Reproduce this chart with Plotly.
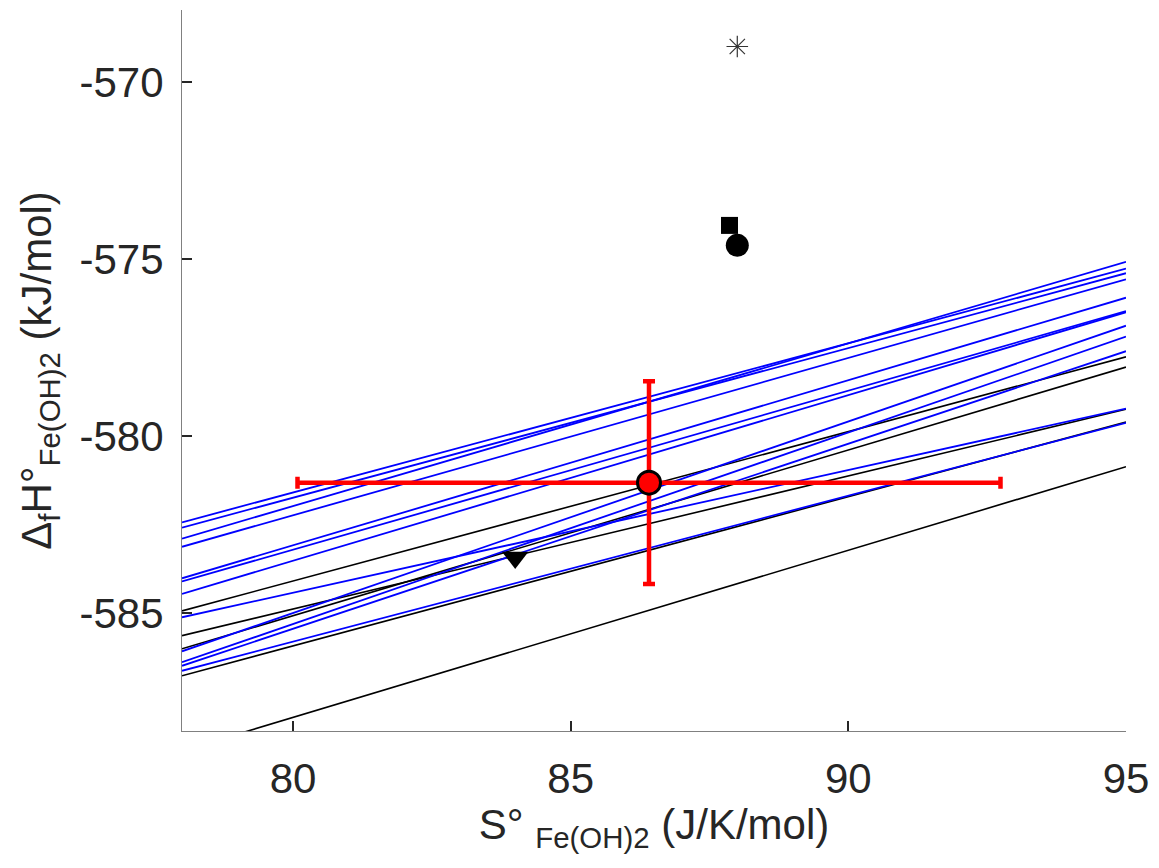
import plotly.graph_objects as go

# S° range where constraint lines are drawn (J/K/mol)
s_ends = [78, 95]

# Blue constraint lines: ΔfH at S=78 and at S=95 (kJ/mol)
blue_h_start = [-582.43, -582.58, -582.89, -583.12, -584.01, -584.10,
                -584.45, -585.11, -586.07, -586.38, -586.48, -586.62]
blue_h_end = [-575.27, -575.40, -575.08, -575.57, -576.09, -576.47,
              -576.50, -579.22, -576.88, -577.19, -577.60, -579.62]

# Black constraint lines
black_h_start = [-584.93, -585.63, -586.00, -586.76, -588.88]
black_h_end = [-577.76, -579.24, -578.05, -579.60, -580.86]

# Literature points
star_s, star_h = [88.0], [-569.0]
square_s, square_h = [87.86], [-574.05]
circle_s, circle_h = [88.0], [-574.61]
tri_s, tri_h = [84.0], [-583.42]

# Best estimate with uncertainties
best_s, best_h = [86.41], [-581.31]
best_s_err, best_h_err = [6.33], [2.86]

x_ticks = [80, 85, 90, 95]
y_ticks = [-585, -580, -575, -570]

fig = go.Figure()

for h0, h1 in zip(black_h_start, black_h_end):
    fig.add_trace(go.Scatter(x=s_ends, y=[h0, h1], mode="lines",
                             line=dict(color="black", width=1.6),
                             hoverinfo="skip", showlegend=False))
for h0, h1 in zip(blue_h_start, blue_h_end):
    fig.add_trace(go.Scatter(x=s_ends, y=[h0, h1], mode="lines",
                             line=dict(color="#0000ff", width=1.8),
                             hoverinfo="skip", showlegend=False))

fig.add_trace(go.Scatter(x=star_s, y=star_h, mode="markers",
                         marker=dict(symbol="asterisk-open", size=18, color="#333333",
                                     line=dict(color="#333333", width=1.2)),
                         showlegend=False))
fig.add_trace(go.Scatter(x=square_s, y=square_h, mode="markers",
                         marker=dict(symbol="square", size=17, color="black"),
                         showlegend=False))
fig.add_trace(go.Scatter(x=circle_s, y=circle_h, mode="markers",
                         marker=dict(symbol="circle", size=23, color="black"),
                         showlegend=False))
fig.add_trace(go.Scatter(x=tri_s, y=tri_h, mode="markers",
                         marker=dict(symbol="triangle-down", size=23, color="black"),
                         showlegend=False))
fig.add_trace(go.Scatter(x=best_s, y=best_h, mode="markers",
                         marker=dict(symbol="circle", size=23, color="#ff0000",
                                     line=dict(color="black", width=3)),
                         error_x=dict(type="data", array=best_s_err, color="#ff0000",
                                      thickness=4.5, width=6),
                         error_y=dict(type="data", array=best_h_err, color="#ff0000",
                                      thickness=4.5, width=6),
                         showlegend=False))

font = dict(family="Liberation Sans, Arial, sans-serif", size=42, color="#262626")

fig.update_layout(
    width=1159, height=868,
    margin=dict(l=182, r=31, t=10, b=137),
    paper_bgcolor="white", plot_bgcolor="white",
    font=font,
    xaxis=dict(range=[78, 95], tickvals=x_ticks, ticktext=[str(v) for v in x_ticks],
               showgrid=False, zeroline=False, showline=True,
               linecolor="#808080", linewidth=1.2,
               ticks="inside", ticklen=10, tickwidth=1.5, tickcolor="#262626",
               ticklabelstandoff=10,
               title=dict(text="S° <sub>Fe(OH)2</sub> (J/K/mol)", standoff=8,
                          font=font)),
    yaxis=dict(range=[-588.32, -567.97], tickvals=y_ticks,
               ticktext=[str(v) for v in y_ticks],
               showgrid=False, zeroline=False, showline=True,
               linecolor="#808080", linewidth=1.2,
               ticks="inside", ticklen=10, tickwidth=1.5, tickcolor="#262626",
               ticklabelstandoff=9,
               title=dict(text="Δ<sub>f</sub>H°<sub>Fe(OH)2</sub> (kJ/mol)", standoff=14,
                          font=font)),
)

fig.write_html("out.html")
